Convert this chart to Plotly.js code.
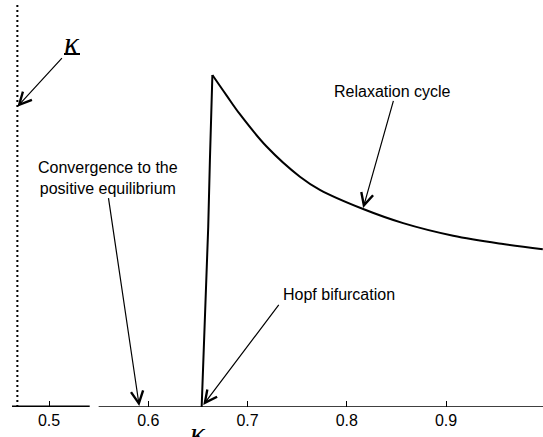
<!DOCTYPE html>
<html>
<head>
<meta charset="utf-8">
<script src="https://cdn.plot.ly/plotly-3.0.1.min.js"></script>
<style>html,body{margin:0;padding:0;background:#fff;}#chart{width:543px;height:437px;}</style>
</head>
<body>
<div id="chart"></div>
<script>
// ---- data (kappa on x, cycle amplitude on y, arbitrary units) ----
var kappaUnder = 0.4681;              // critical kappa (underbar)
var kappaRange = [0.4627, 0.9977];
var ampRange = [0, 4.02];

var thickX = [0.4627, 0.5410];        // convergence branch (thick)
var thickY = [0, 0];
var eqX = [0.5500, 0.9977];           // equilibrium branch
var eqY = [0, 0];

// rise of the cycle amplitude after the Hopf bifurcation
var riseX = [0.6538, 0.6554, 0.6584, 0.6604, 0.6621, 0.6636, 0.6646];
var riseY = [0.00, 0.47, 1.14, 1.80, 2.47, 3.07, 3.32];
// relaxation cycle amplitude decay
var decayX = [0.6646, 0.6790, 0.6923, 0.7192, 0.7528, 0.7729, 0.8165, 0.8568, 0.9072, 0.9575, 0.9975];
var decayY = [3.32, 3.114, 2.928, 2.605, 2.303, 2.172, 1.980, 1.839, 1.713, 1.630, 1.578];

var tickVals = [0.5, 0.6, 0.7, 0.8, 0.9];
var tickText = ['0.5', '0.6', '0.7', '0.8', '0.9'];

// annotation texts and positions
var labels = ['Relaxation cycle', 'Convergence to the<br>positive equilibrium', 'Hopf bifurcation'];
var labelX = [0.8464, 0.5594, 0.7920];
var labelY = [3.16, 2.29, 1.13];

// arrows: tail -> head
var arrowTailX = [0.8474, 0.5597, 0.7326, 0.5144];
var arrowTailY = [3.077, 2.103, 1.037, 3.503];
var arrowHeadX = [0.8165, 0.5909, 0.6554, 0.4681];
var arrowHeadY = [1.990, 0.010, 0.020, 3.003];

var kappaLabelX = 0.5232, kappaLabelY = 3.64;
var underlineX = [0.5151, 0.5312], underlineY = 3.53;

var FONT = 'Liberation Sans, Arial, sans-serif';
var KFONT = 'Liberation Serif, Times New Roman, serif';

var traces = [
  {x: [kappaUnder, kappaUnder], y: ampRange, mode: 'lines', line: {color: '#000', width: 2, dash: '2px,3px'}, cliponaxis: false, hoverinfo: 'skip'},
  {x: eqX, y: eqY, mode: 'lines', line: {color: '#000', width: 1.5}, cliponaxis: false, hoverinfo: 'skip'},
  {x: thickX, y: thickY, mode: 'lines', line: {color: '#000', width: 3}, cliponaxis: false, hoverinfo: 'skip'},
  {x: riseX, y: riseY, mode: 'lines', line: {color: '#000', width: 2}, cliponaxis: false, hoverinfo: 'skip'},
  {x: decayX, y: decayY, mode: 'lines', line: {color: '#000', width: 2, shape: 'spline', smoothing: 1}, cliponaxis: false, hoverinfo: 'skip'}
];

var annotations = [];
for (var i = 0; i < labels.length; i++) {
  annotations.push({x: labelX[i], y: labelY[i], xref: 'x', yref: 'y', text: labels[i], showarrow: false,
    font: {family: FONT, size: 16, color: '#000'}, xanchor: 'center', yanchor: 'middle'});
}
for (var j = 0; j < arrowTailX.length; j++) {
  annotations.push({x: arrowHeadX[j], y: arrowHeadY[j], ax: arrowTailX[j], ay: arrowTailY[j], axref: 'x', ayref: 'y',
    xref: 'x', yref: 'y', text: '', showarrow: true, arrowhead: 5, arrowsize: 2, arrowwidth: 1.2, arrowcolor: '#000',
    font: {size: 1}, standoff: 0, startstandoff: 0});
}
annotations.push({x: kappaLabelX, y: kappaLabelY, xref: 'x', yref: 'y', text: '<i>κ</i>', showarrow: false,
  font: {family: KFONT, size: 31, color: '#000'}, xanchor: 'center', yanchor: 'middle'});
annotations.push({x: 0.650, y: -0.018, xref: 'x', yref: 'paper', text: '<i>κ</i>', showarrow: false,
  font: {family: KFONT, size: 31, color: '#000'}, xanchor: 'center', yanchor: 'top'});

var layout = {
  width: 543, height: 437,
  margin: {l: 12, r: 0, t: 5, b: 30},
  paper_bgcolor: '#fff', plot_bgcolor: '#fff',
  showlegend: false,
  xaxis: {range: kappaRange, tickvals: tickVals, ticktext: tickText, ticks: 'inside', ticklen: 6, tickwidth: 1,
    tickcolor: '#000', showgrid: false, zeroline: false, showline: false, ticklabelstandoff: 2,
    tickfont: {family: FONT, size: 16, color: '#000'}, fixedrange: true},
  yaxis: {range: ampRange, visible: false, fixedrange: true},
  annotations: annotations,
  shapes: [{type: 'line', xref: 'x', yref: 'y', x0: underlineX[0], x1: underlineX[1], y0: underlineY, y1: underlineY,
    line: {color: '#000', width: 2}}]
};

Plotly.newPlot('chart', traces, layout, {staticPlot: true, displayModeBar: false});
</script>
</body>
</html>
